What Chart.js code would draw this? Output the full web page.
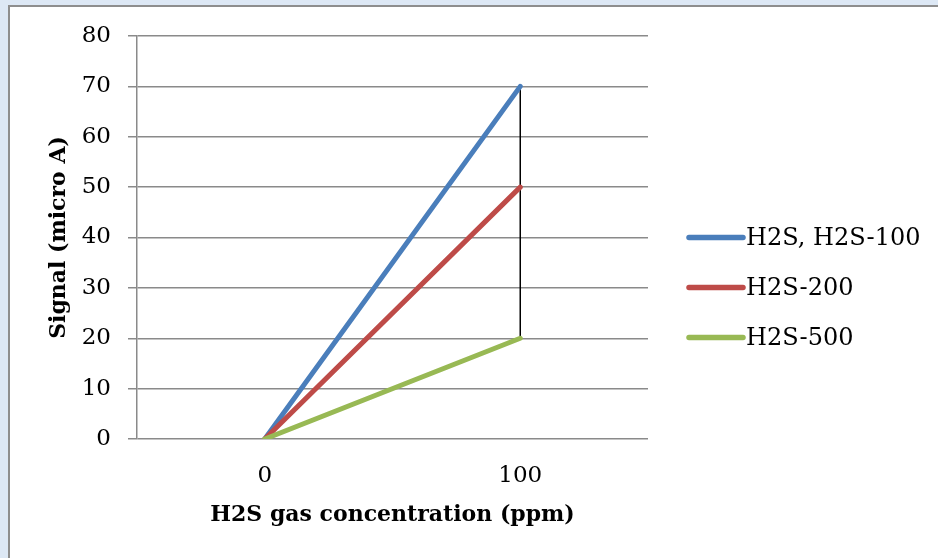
<!DOCTYPE html>
<html>
<head>
<meta charset="utf-8">
<script src="https://cdn.jsdelivr.net/npm/chart.js@4"></script>
<style>
  html, body { margin: 0; padding: 0; width: 938px; height: 558px; overflow: hidden; background: #dde8f5; }
  #box { position: absolute; left: 8px; top: 5px; width: 950px; height: 570px; background: #fff; border: 2px solid #8e8e8e; box-sizing: border-box; }
  #wrap { position: absolute; left: 0; top: 0; width: 938px; height: 558px; }
</style>
</head>
<body>
<div id="box"></div>
<div id="wrap"><canvas id="c" width="938" height="558"></canvas></div>
<script>
const categories = ['0', '100'];
const seriesNames = ['H2S, H2S-100', 'H2S-200', 'H2S-500'];
const seriesH2S100 = [0, 70];
const seriesH2S200 = [0, 50];
const seriesH2S500 = [0, 20];
const yTicks = { min: 0, max: 80, step: 10 };
const seriesColors = ['#4a7ebb', '#be4b48', '#98b954'];

const FONT = "'DejaVu Serif', serif";

// High-low lines: vertical black line from min to max across series per category
const highLowPlugin = {
  id: 'highLow',
  beforeDatasetsDraw(chart) {
    const {ctx, scales: {x, y}} = chart;
    const ds = chart.data.datasets;
    ctx.save();
    ctx.strokeStyle = '#000';
    ctx.lineWidth = 1.5;
    chart.data.labels.forEach((lab, i) => {
      const vals = ds.map(d => d.data[i]);
      const lo = Math.min(...vals), hi = Math.max(...vals);
      if (hi === lo) return;
      const px = x.getPixelForValue(i);
      ctx.beginPath();
      ctx.moveTo(px, y.getPixelForValue(lo));
      ctx.lineTo(px, y.getPixelForValue(hi));
      ctx.stroke();
    });
    ctx.restore();
  }
};

// Legend drawn to the right of the plot, Excel style
const legendPlugin = {
  id: 'xlLegend',
  afterDraw(chart) {
    const {ctx, chartArea} = chart;
    const ds = chart.data.datasets;
    const x0 = chartArea.right + 41;
    const lineLen = 54;
    const rowGap = 50;
    const midY = (chartArea.top + chartArea.bottom) / 2 + 50;
    ctx.save();
    ctx.font = "24px " + FONT;
    ctx.textBaseline = 'middle';
    ctx.textAlign = 'left';
    ds.forEach((d, i) => {
      const yy = midY + (i - (ds.length - 1) / 2) * rowGap;
      ctx.strokeStyle = d.borderColor;
      ctx.lineWidth = 5.5;
      ctx.lineCap = 'round';
      ctx.beginPath();
      ctx.moveTo(x0, yy);
      ctx.lineTo(x0 + lineLen, yy);
      ctx.stroke();
      ctx.fillStyle = '#000';
      ctx.fillText(d.label, x0 + lineLen + 3, yy + 1);
    });
    ctx.restore();
  }
};

const datasets = [seriesH2S100, seriesH2S200, seriesH2S500].map((vals, i) => ({
  label: seriesNames[i],
  data: vals,
  borderColor: seriesColors[i],
  backgroundColor: seriesColors[i],
  borderWidth: 5,
  borderCapStyle: 'round',
  borderJoinStyle: 'round',
  pointRadius: 0,
  pointHoverRadius: 0,
  fill: false,
  tension: 0,
  order: 3 - i
}));

new Chart(document.getElementById('c'), {
  type: 'line',
  data: { labels: categories, datasets },
  options: {
    responsive: false,
    animation: false,
    devicePixelRatio: 1,
    layout: { padding: { left: 30, right: 290, top: 36, bottom: 0 } },
    plugins: { legend: { display: false }, tooltip: { enabled: false } },
    scales: {
      x: {
        type: 'category',
        offset: true,
        grid: { display: false, drawTicks: false },
        border: { display: false },
        ticks: { color: '#000', font: { family: FONT, size: 23 }, padding: 23, maxRotation: 0 },
        title: { display: true, text: 'H2S gas concentration (ppm)', color: '#000',
                 font: { family: FONT, size: 22, weight: 'bold' }, padding: { top: 0, bottom: 30 } },
        afterFit(s) { s.height = 119; }
      },
      y: {
        min: yTicks.min, max: yTicks.max,
        grid: { color: '#8a8a8a', lineWidth: 1.5, tickLength: 9, drawTicks: true },
        border: { color: '#8a8a8a', width: 1.5 },
        ticks: { stepSize: yTicks.step, color: '#000', font: { family: FONT, size: 23 }, padding: 17 },
        title: { display: true, text: 'Signal (micro A)', color: '#000',
                 font: { family: FONT, size: 22, weight: 'bold' }, padding: { top: 16, bottom: 0 } },
        afterFit(s) { s.width = 107; }
      }
    }
  },
  plugins: [highLowPlugin, legendPlugin]
});
</script>
</body>
</html>
